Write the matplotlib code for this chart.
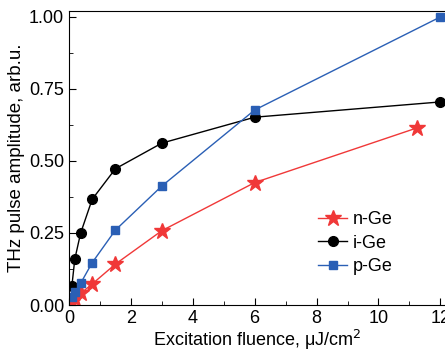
import matplotlib
matplotlib.use('Agg')
import matplotlib.pyplot as plt
from matplotlib.ticker import MultipleLocator

# data
x_n = [0.094, 0.1875, 0.375, 0.75, 1.5, 3.0, 6.0, 11.25]
y_n = [0.012, 0.02, 0.04, 0.073, 0.142, 0.258, 0.425, 0.615]
x_i = [0.094, 0.1875, 0.375, 0.75, 1.5, 3.0, 6.0, 12.0]
y_i = [0.066, 0.159, 0.249, 0.367, 0.473, 0.562, 0.652, 0.705]
x_p = [0.094, 0.1875, 0.375, 0.75, 1.5, 3.0, 6.0, 12.0]
y_p = [0.028, 0.045, 0.075, 0.147, 0.26, 0.413, 0.677, 1.0]

plt.rcParams['font.family'] = ['Liberation Sans', 'DejaVu Sans']

fig = plt.figure(figsize=(4.45, 3.52), dpi=100)
ax = fig.add_axes([0.155, 0.1335, 0.845, 0.8355])

ax.plot(x_n, y_n, color='#f03838', lw=1.0, marker='*', ms=12, label='n-Ge')
ax.plot(x_i, y_i, color='black', lw=1.0, marker='o', ms=7, label='i-Ge')
ax.plot(x_p, y_p, color='#2a5fb5', lw=1.0, marker='s', ms=6, label='p-Ge')

ax.set_xlim(0, 12.15)
ax.set_ylim(0, 1.021)
ax.xaxis.set_major_locator(MultipleLocator(2))
ax.xaxis.set_minor_locator(MultipleLocator(1))
ax.yaxis.set_major_locator(MultipleLocator(0.25))
ax.yaxis.set_minor_locator(MultipleLocator(0.125))
ax.yaxis.set_major_formatter(matplotlib.ticker.FormatStrFormatter('%.2f'))
ax.tick_params(which='both', direction='in', labelsize=13)
ax.tick_params(which='major', length=5)
ax.tick_params(which='minor', length=3)
ax.spines['right'].set_visible(False)

ax.set_xlabel('Excitation fluence, μJ/cm$^2$', fontsize=13, labelpad=1)
ax.set_ylabel('THz pulse amplitude, arb.u.', fontsize=13.5, labelpad=3)

ax.legend(loc='center left', bbox_to_anchor=(0.62, 0.21), frameon=False,
          fontsize=13, handlelength=1.6, handletextpad=0.3, labelspacing=0.35)

plt.savefig('out.png', dpi=100)
plt.close()
